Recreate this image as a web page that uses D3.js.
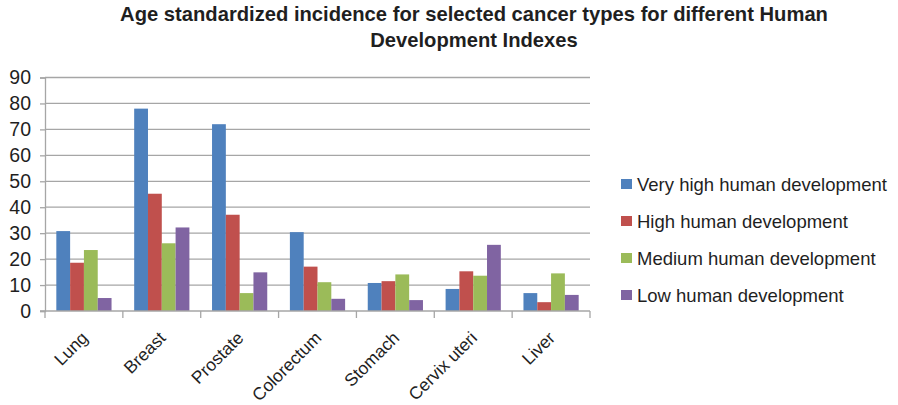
<!DOCTYPE html>
<html>
<head>
<meta charset="utf-8">
<script src="https://cdn.jsdelivr.net/npm/d3@7"></script>
<style>
  html, body { margin: 0; padding: 0; background: #fff; }
  svg { display: block; font-family: "Liberation Sans", Arial, sans-serif; }
</style>
</head>
<body>
<svg id="chart" width="898" height="405"></svg>
<script>
// Cancer types along the x axis
const categories = ["Lung", "Breast", "Prostate", "Colorectum", "Stomach", "Cervix uteri", "Liver"];

// Human Development Index groups (one bar series each)
const seriesNames = [
  "Very high human development",
  "High human development",
  "Medium human development",
  "Low human development"
];

// Age standardized incidence per cancer type, one array per HDI group
const veryHigh = [30.8, 78.0, 72.0, 30.4, 10.8, 8.5, 6.9];
const high     = [18.6, 45.2, 37.1, 17.1, 11.5, 15.3, 3.4];
const medium   = [23.5, 26.1, 6.9, 11.1, 14.1, 13.6, 14.5];
const low      = [5.0, 32.2, 14.9, 4.7, 4.2, 25.5, 6.2];

const seriesValues = [veryHigh, high, medium, low];
const colors = ["#4F81BD", "#C0504D", "#9BBB59", "#8064A2"];
const yTicks = [0, 10, 20, 30, 40, 50, 60, 70, 80, 90];

const svg = d3.select("#chart");
const plot = { left: 45, right: 590, top: 77.5, bottom: 311 };

const x0 = d3.scaleBand().domain(categories).range([plot.left, plot.right]).paddingInner(0).paddingOuter(0);
const x1 = d3.scaleBand().domain(d3.range(seriesNames.length)).range([0, x0.bandwidth()]).paddingOuter(0.82).paddingInner(0);
const y = d3.scaleLinear().domain([0, 90]).range([plot.bottom, plot.top]);

// Title
const title = svg.append("text")
  .attr("text-anchor", "middle")
  .attr("font-weight", "bold")
  .attr("font-size", 20.2)
  .attr("fill", "#1f1f1f");
title.append("tspan").attr("x", 474).attr("y", 21)
  .text("Age standardized incidence for selected cancer types for different Human");
title.append("tspan").attr("x", 474).attr("y", 47)
  .text("Development Indexes");

// Horizontal gridlines
svg.append("g")
  .selectAll("line")
  .data(yTicks.filter(d => d > 0))
  .join("line")
  .attr("x1", plot.left).attr("x2", plot.right)
  .attr("y1", d => y(d)).attr("y2", d => y(d))
  .attr("stroke", "#a6a6a6").attr("stroke-width", 1.3);

// Y axis
const yAxis = svg.append("g")
  .attr("transform", `translate(${plot.left},0)`)
  .call(d3.axisLeft(y).tickValues(yTicks).tickSize(5).tickPadding(9).tickFormat(d3.format("d")));
yAxis.select(".domain").attr("stroke", "#a6a6a6").attr("stroke-width", 1.3);
yAxis.selectAll(".tick line").attr("stroke", "#a6a6a6").attr("stroke-width", 1.3);
yAxis.selectAll(".tick text")
  .attr("font-family", "Liberation Sans, Arial, sans-serif")
  .attr("font-size", 19.5).attr("fill", "#1f1f1f");

// Bars
const groups = svg.append("g")
  .selectAll("g")
  .data(categories)
  .join("g")
  .attr("transform", d => `translate(${x0(d)},0)`);

groups.selectAll("rect")
  .data((c, ci) => seriesValues.map((vals, si) => ({ si, v: vals[ci] })))
  .join("rect")
  .attr("x", d => x1(d.si))
  .attr("width", x1.bandwidth())
  .attr("y", d => y(d.v))
  .attr("height", d => y(0) - y(d.v))
  .attr("fill", d => colors[d.si]);

// X axis with category dividers
const xAxisG = svg.append("g").attr("transform", `translate(0,${plot.bottom})`);
xAxisG.append("line")
  .attr("x1", plot.left - 5).attr("x2", plot.right)
  .attr("stroke", "#a6a6a6").attr("stroke-width", 1.3);
xAxisG.selectAll("line.div")
  .data(categories.map(c => x0(c)).concat([plot.right]))
  .join("line")
  .attr("class", "div")
  .attr("x1", d => d).attr("x2", d => d)
  .attr("y1", 0).attr("y2", 7)
  .attr("stroke", "#a6a6a6").attr("stroke-width", 1.3);

xAxisG.selectAll("text")
  .data(categories)
  .join("text")
  .attr("text-anchor", "end")
  .attr("font-size", 17.5)
  .attr("fill", "#1f1f1f")
  .attr("transform", d => `translate(${x0(d) + x0.bandwidth() / 2 + 5},${28}) rotate(-45)`)
  .text(d => d);

// Legend
const legend = svg.append("g")
  .selectAll("g")
  .data(seriesNames)
  .join("g")
  .attr("transform", (d, i) => `translate(621,${184 + i * 37})`);
legend.append("rect")
  .attr("x", 0).attr("y", -5).attr("width", 11).attr("height", 10)
  .attr("fill", (d, i) => colors[i]);
legend.append("text")
  .attr("x", 16).attr("y", 6.5)
  .attr("font-size", 18.5)
  .attr("fill", "#1f1f1f")
  .text(d => d);
</script>
</body>
</html>
